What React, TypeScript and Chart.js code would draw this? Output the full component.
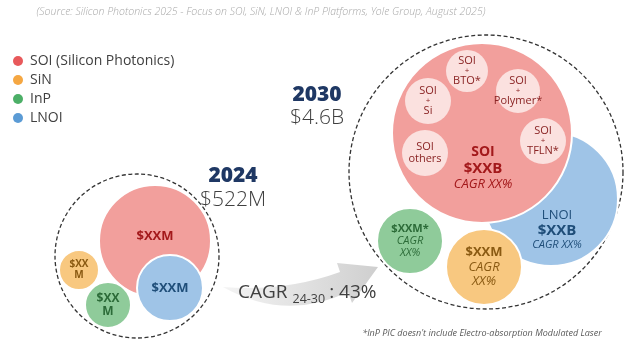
import React, { useEffect, useRef } from "react";
import { Chart, registerables } from "chart.js";

Chart.register(...registerables);

const FONT = "'Open Sans', 'Noto Sans', sans-serif";

const subtitle =
  "(Source: Silicon Photonics 2025 - Focus on SOI, SiN, LNOI & InP Platforms, Yole Group, August 2025)";
const footnote = "*InP PIC doesn't include Electro-absorption Modulated Laser";

// Platforms (legend)
const platformNames = ["SOI (Silicon Photonics)", "SiN", "InP", "LNOI"];
const platformDotColors = ["#E8595B", "#F5A742", "#4CAF67", "#5B9BD5"];
const platformFillColors = ["#F29F9C", "#F8C880", "#8FCB9A", "#9FC4E7"];
const platformTextColors = ["#A3191B", "#8A5A12", "#2C6B38", "#1F4E79"];

const years = ["2024", "2030"];
const yearTotals = ["$522M", "$4.6B"];
const cagrPeriod = "24-30";
const cagrValue = "43%";

// Total market outlines (x, y in layout units, r = bubble radius)
const totalX = [137, 486];
const totalY = [256, 172];
const totalR = [82, 137];

// 2024 segments: SOI, SiN, InP, LNOI
const seg2024Platform = [0, 1, 2, 3];
const seg2024X = [155, 79, 108, 170];
const seg2024Y = [241, 270, 305, 288];
const seg2024R = [56, 20, 23, 33];
const seg2024Labels = [["$XXM"], ["$XX", "M"], ["$XX", "M"], ["$XXM"]];

// 2030 segments: LNOI, SOI, InP, SiN
const seg2030Platform = [3, 0, 2, 1];
const seg2030X = [551, 482, 410, 484];
const seg2030Y = [199, 133, 241, 267];
const seg2030R = [67, 90, 33, 38];
const seg2030Labels = [
  ["LNOI", "$XXB", "CAGR XX%"],
  ["SOI", "$XXB", "CAGR XX%"],
  ["$XXM*", "CAGR", "XX%"],
  ["$XXM", "CAGR", "XX%"],
];

// SOI sub-platforms in 2030
const subX = [467, 518, 428, 425, 543];
const subY = [71, 91, 101, 153, 141];
const subR = [21, 22, 23, 23, 23];
const subLabels = [
  ["SOI", "+", "BTO*"],
  ["SOI", "+", "Polymer*"],
  ["SOI", "+", "Si"],
  ["SOI", "others"],
  ["SOI", "+", "TFLN*"],
];

type Style = { size: number; weight: number; italic?: boolean };

const B = (size: number): Style => ({ size, weight: 700 });
const N = (size: number): Style => ({ size, weight: 400 });
const I = (size: number): Style => ({ size, weight: 400, italic: true });

const seg2024Styles: Style[][] = [[B(13)], [B(10), B(10)], [B(12), B(12)], [B(13)]];
const seg2024Offsets = [[0, -5], [0, 0], [0, 0], [0, 0]];
const seg2030Styles: Style[][] = [
  [N(13), B(15), I(11)],
  [B(14), B(15), I(13)],
  [B(11), I(11), I(11)],
  [B(13), I(13), I(13)],
];
const seg2030Offsets = [[6, 31], [1, 35], [0, 0], [0, 0]];

function font(s: Style) {
  return `${s.italic ? "italic " : ""}${s.weight} ${s.size}px ${FONT}`;
}

function drawLines(ctx: CanvasRenderingContext2D, cx: number, cy: number, lines: string[], styles: Style[], color: string, spacing = 1.12) {
  const pos = [0];
  for (let i = 1; i < lines.length; i++) {
    pos.push(pos[i - 1] + ((styles[i - 1].size + styles[i].size) / 2) * spacing);
  }
  const mid = pos[pos.length - 1] / 2;
  ctx.fillStyle = color;
  ctx.textAlign = "center";
  ctx.textBaseline = "middle";
  lines.forEach((t, i) => {
    ctx.font = font(styles[i]);
    ctx.fillText(t, cx, cy + pos[i] - mid);
  });
}

const annotPlugin = {
  id: "annot",
  beforeDatasetDraw(chart: any, args: any) {
    if (chart.data.datasets[args.index].label === "Total market") {
      chart.ctx.save();
      chart.ctx.setLineDash([4, 2.5]);
    }
  },
  afterDatasetDraw(chart: any, args: any) {
    if (chart.data.datasets[args.index].label === "Total market") {
      chart.ctx.restore();
    }
  },
  beforeDatasetsDraw(chart: any) {
    const ctx: CanvasRenderingContext2D = chart.ctx;
    ctx.save();
    const g = ctx.createLinearGradient(223, 0, 378, 0);
    g.addColorStop(0, "#F4F4F4");
    g.addColorStop(1, "#CFCFCF");
    ctx.fillStyle = g;
    ctx.beginPath();
    ctx.moveTo(223, 287);
    ctx.quadraticCurveTo(285, 292, 340, 272);
    ctx.lineTo(337, 263);
    ctx.lineTo(378, 267);
    ctx.lineTo(352, 303);
    ctx.lineTo(348, 292);
    ctx.quadraticCurveTo(285, 322, 223, 287);
    ctx.closePath();
    ctx.fill();
    ctx.restore();
  },
  afterDatasetsDraw(chart: any) {
    const ctx: CanvasRenderingContext2D = chart.ctx;
    ctx.save();
    // subtitle
    ctx.fillStyle = "#A8A8A8";
    ctx.font = `italic 300 10.5px ${FONT}`;
    ctx.textAlign = "center";
    ctx.textBaseline = "middle";
    ctx.fillText(subtitle, 261, 12);

    // legend
    platformNames.forEach((name, i) => {
      const y = 61 + i * 19;
      ctx.fillStyle = platformDotColors[i];
      ctx.beginPath();
      ctx.arc(18, y, 5, 0, Math.PI * 2);
      ctx.fill();
      ctx.fillStyle = "#404040";
      ctx.font = `400 14px ${FONT}`;
      ctx.textAlign = "left";
      ctx.textBaseline = "middle";
      ctx.fillText(name, 30, y + 0.5);
    });

    // year headers
    const yearPos = [[233, 176, 200], [317, 95, 118]];
    years.forEach((yr, i) => {
      const [x, y1, y2] = yearPos[i];
      ctx.textAlign = "center";
      ctx.textBaseline = "middle";
      ctx.fillStyle = "#1F3864";
      ctx.font = `800 21px ${FONT}`;
      ctx.fillText(yr, x, y1);
      ctx.fillStyle = "#404040";
      ctx.font = `300 21px ${FONT}`;
      ctx.fillText(yearTotals[i], x, y2);
    });

    // segment labels
    const m24 = chart.getDatasetMeta(1);
    m24.data.forEach((el: any, i: number) => {
      const [dx, dy] = seg2024Offsets[i];
      drawLines(ctx, el.x + dx, el.y + dy, seg2024Labels[i], seg2024Styles[i], platformTextColors[seg2024Platform[i]]);
    });
    const m30 = chart.getDatasetMeta(2);
    m30.data.forEach((el: any, i: number) => {
      const [dx, dy] = seg2030Offsets[i];
      drawLines(ctx, el.x + dx, el.y + dy, seg2030Labels[i], seg2030Styles[i], platformTextColors[seg2030Platform[i]]);
    });
    const mSub = chart.getDatasetMeta(3);
    mSub.data.forEach((el: any, i: number) => {
      const lines = subLabels[i];
      const styles = lines.map((t) => (t === "+" ? N(8) : N(11)));
      drawLines(ctx, el.x, el.y, lines, styles, "#8A2424", 1.05);
    });

    // CAGR text
    ctx.fillStyle = "#404040";
    ctx.textAlign = "left";
    ctx.textBaseline = "middle";
    let x = 238;
    ctx.font = `400 19px ${FONT}`;
    ctx.fillText("CAGR", x, 293);
    x += ctx.measureText("CAGR").width + 5;
    ctx.font = `400 12.5px ${FONT}`;
    ctx.fillText(cagrPeriod, x, 299);
    x += ctx.measureText(cagrPeriod).width + 4;
    ctx.font = `400 19px ${FONT}`;
    ctx.fillText(": " + cagrValue, x, 293);

    // footnote
    ctx.fillStyle = "#595959";
    ctx.font = `italic 400 9px ${FONT}`;
    ctx.textAlign = "center";
    ctx.fillText(footnote, 482, 333);
    ctx.restore();
  },
};

export default function App() {
  const ref = useRef<HTMLCanvasElement>(null);
  useEffect(() => {
    if (!ref.current) return;
    const toPts = (xs: number[], ys: number[], rs: number[]) => xs.map((x, i) => ({ x, y: ys[i], r: rs[i] }));
    const chart = new Chart(ref.current, {
      type: "bubble",
      data: {
        datasets: [
          {
            label: "Total market",
            data: toPts(totalX, totalY, totalR),
            backgroundColor: "rgba(255,255,255,0)",
            borderColor: "#333333",
            borderWidth: 1.3,
            order: 4,
            clip: false,
          } as any,
          {
            label: "2024",
            data: toPts(seg2024X, seg2024Y, seg2024R),
            backgroundColor: seg2024Platform.map((p) => platformFillColors[p]),
            borderColor: "#FFFFFF",
            borderWidth: 2,
            order: 3,
            clip: false,
          },
          {
            label: "2030",
            data: toPts(seg2030X, seg2030Y, seg2030R),
            backgroundColor: seg2030Platform.map((p) => platformFillColors[p]),
            borderColor: "#FFFFFF",
            borderWidth: 2,
            order: 2,
            clip: false,
          },
          {
            label: "SOI sub-platforms",
            data: toPts(subX, subY, subR),
            backgroundColor: "#FBE1DF",
            borderWidth: 0,
            order: 1,
            clip: false,
          },
        ],
      },
      options: {
        animation: false,
        responsive: false,
        events: [],
        layout: { padding: 0, autoPadding: false },
        scales: {
          x: { type: "linear", min: 0, max: 640, display: false },
          y: { type: "linear", min: 0, max: 360, reverse: true, display: false },
        },
        plugins: { legend: { display: false }, tooltip: { enabled: false } },
      },
      plugins: [annotPlugin],
    });
    return () => chart.destroy();
  }, []);
  return (
    <div style={{ position: "fixed", left: 0, top: 0, width: 640, height: 360, background: "#fff" }}>
      <canvas ref={ref} width={640} height={360} style={{ width: 640, height: 360, display: "block" }} />
    </div>
  );
}
